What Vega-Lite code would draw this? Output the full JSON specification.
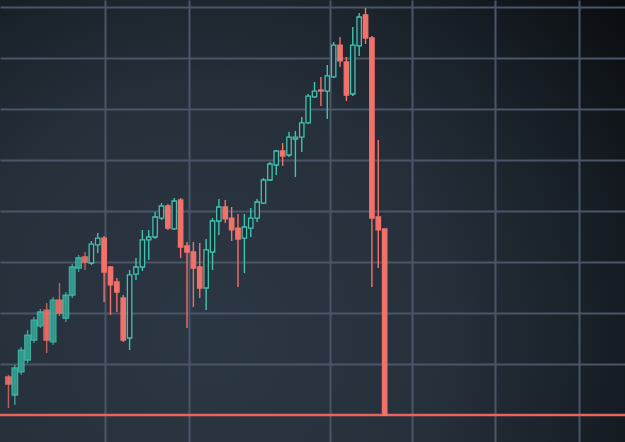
{
  "$schema": "https://vega.github.io/schema/vega-lite/v6.json",
  "width": 625,
  "height": 442,
  "padding": 0,
  "autosize": {"type": "none"},
  "background": "#12171c",
  "config": {
    "view": {
      "stroke": null,
      "fill": {
        "gradient": "radial",
        "x1": 0.33, "y1": 0.68, "r1": 0,
        "x2": 0.33, "y2": 0.68, "r2": 0.85,
        "stops": [
          {"offset": 0, "color": "#2c3744"},
          {"offset": 0.45, "color": "#26303b"},
          {"offset": 0.75, "color": "#171e25"},
          {"offset": 1, "color": "#0a0d10"}
        ]
      }
    },
    "axis": {
      "grid": true,
      "gridColor": "#4a5668",
      "gridWidth": 2,
      "gridOpacity": 1,
      "labels": false,
      "ticks": false,
      "domain": false,
      "title": null
    }
  },
  "data": {
    "values": [
      {"i": -1, "o": 373, "h": 392, "l": 69, "c": 304},
      {"i": 0, "o": 196, "h": 490, "l": 98, "c": 461},
      {"i": 1, "o": 422, "h": 667, "l": 392, "c": 637},
      {"i": 2, "o": 539, "h": 833, "l": 510, "c": 784},
      {"i": 3, "o": 735, "h": 961, "l": 706, "c": 931},
      {"i": 4, "o": 873, "h": 1039, "l": 853, "c": 1010},
      {"i": 5, "o": 1029, "h": 1098, "l": 608, "c": 735},
      {"i": 6, "o": 716, "h": 1157, "l": 686, "c": 1127},
      {"i": 7, "o": 1127, "h": 1294, "l": 971, "c": 1000},
      {"i": 8, "o": 951, "h": 1206, "l": 912, "c": 1176},
      {"i": 9, "o": 1176, "h": 1480, "l": 1147, "c": 1451},
      {"i": 10, "o": 1441, "h": 1569, "l": 1402, "c": 1539},
      {"i": 11, "o": 1549, "h": 1598, "l": 1422, "c": 1500},
      {"i": 12, "o": 1490, "h": 1706, "l": 1471, "c": 1676},
      {"i": 13, "o": 1667, "h": 1784, "l": 1588, "c": 1735},
      {"i": 14, "o": 1735, "h": 1755, "l": 1108, "c": 1402},
      {"i": 15, "o": 1451, "h": 1461, "l": 980, "c": 1275},
      {"i": 16, "o": 1304, "h": 1343, "l": 1010, "c": 1206},
      {"i": 17, "o": 1147, "h": 1176, "l": 716, "c": 735},
      {"i": 18, "o": 755, "h": 1422, "l": 637, "c": 1373},
      {"i": 19, "o": 1382, "h": 1539, "l": 1324, "c": 1451},
      {"i": 20, "o": 1451, "h": 1814, "l": 1412, "c": 1716},
      {"i": 21, "o": 1716, "h": 1814, "l": 1520, "c": 1745},
      {"i": 22, "o": 1745, "h": 1990, "l": 1725, "c": 1941},
      {"i": 23, "o": 1931, "h": 2078, "l": 1912, "c": 2049},
      {"i": 24, "o": 2049, "h": 2069, "l": 1814, "c": 1833},
      {"i": 25, "o": 1824, "h": 2127, "l": 1814, "c": 2098},
      {"i": 26, "o": 2108, "h": 2127, "l": 1539, "c": 1647},
      {"i": 27, "o": 1657, "h": 1696, "l": 853, "c": 1598},
      {"i": 28, "o": 1598, "h": 1696, "l": 1059, "c": 1441},
      {"i": 29, "o": 1451, "h": 1686, "l": 1147, "c": 1245},
      {"i": 30, "o": 1245, "h": 1725, "l": 1029, "c": 1618},
      {"i": 31, "o": 1598, "h": 1931, "l": 1422, "c": 1902},
      {"i": 32, "o": 1902, "h": 2118, "l": 1765, "c": 2039},
      {"i": 33, "o": 2039, "h": 2108, "l": 1882, "c": 1922},
      {"i": 34, "o": 1931, "h": 2039, "l": 1706, "c": 1814},
      {"i": 35, "o": 1833, "h": 1971, "l": 1255, "c": 1725},
      {"i": 36, "o": 1735, "h": 1971, "l": 1392, "c": 1843},
      {"i": 37, "o": 1833, "h": 2029, "l": 1745, "c": 1931},
      {"i": 38, "o": 1931, "h": 2118, "l": 1892, "c": 2088},
      {"i": 39, "o": 2078, "h": 2324, "l": 2069, "c": 2304},
      {"i": 40, "o": 2304, "h": 2480, "l": 2294, "c": 2461},
      {"i": 41, "o": 2451, "h": 2598, "l": 2353, "c": 2588},
      {"i": 42, "o": 2588, "h": 2667, "l": 2441, "c": 2539},
      {"i": 43, "o": 2549, "h": 2775, "l": 2529, "c": 2725},
      {"i": 44, "o": 2706, "h": 2784, "l": 2333, "c": 2725},
      {"i": 45, "o": 2725, "h": 2922, "l": 2578, "c": 2863},
      {"i": 46, "o": 2863, "h": 3147, "l": 2853, "c": 3127},
      {"i": 47, "o": 3118, "h": 3265, "l": 3108, "c": 3176},
      {"i": 48, "o": 3186, "h": 3314, "l": 3029, "c": 3176},
      {"i": 49, "o": 3176, "h": 3431, "l": 2902, "c": 3324},
      {"i": 50, "o": 3314, "h": 3657, "l": 3304, "c": 3627},
      {"i": 51, "o": 3627, "h": 3706, "l": 3412, "c": 3471},
      {"i": 52, "o": 3461, "h": 3510, "l": 3078, "c": 3137},
      {"i": 53, "o": 3147, "h": 3804, "l": 3127, "c": 3627},
      {"i": 54, "o": 3618, "h": 3941, "l": 3520, "c": 3902},
      {"i": 55, "o": 3922, "h": 3990, "l": 3637, "c": 3696},
      {"i": 56, "o": 3696, "h": 3716, "l": 1255, "c": 1931},
      {"i": 57, "o": 1941, "h": 2696, "l": 1441, "c": 1814},
      {"i": 58, "o": 1824, "h": 1824, "l": 0, "c": 0}
    ]
  },
  "layer": [
    {
      "data": {"values": [{"level": 0}]},
      "mark": {"type": "rule", "color": "#e8645d", "strokeWidth": 2.5},
      "encoding": {
        "y": {
          "field": "level", "type": "quantitative",
          "scale": {"domain": [-264.7, 4068.6], "nice": false, "zero": false},
          "axis": {"values": [500, 1000, 1500, 2000, 2500, 3000, 3500, 4000]}
        }
      }
    },
    {
      "mark": {"type": "rule", "strokeWidth": 1.4},
      "encoding": {
        "x": {
          "field": "i", "type": "quantitative",
          "scale": {"domain": [-1.543, 94.907], "nice": false, "zero": false},
          "axis": {"values": [14.2, 27.31, 49.38, 62.35, 75.31, 88.43]}
        },
        "y": {
          "field": "l", "type": "quantitative",
          "scale": {"domain": [-264.7, 4068.6], "nice": false, "zero": false}
        },
        "y2": {"field": "h"},
        "color": {
          "condition": {"test": "datum.c >= datum.o", "value": "#41c3b0"},
          "value": "#f2716a"
        },
        "opacity": {
          "condition": {"test": "datum.i < 12", "value": 0.75},
          "value": 1
        }
      }
    },
    {
      "mark": {"type": "bar", "strokeWidth": 1.3},
      "encoding": {
        "x": {
          "field": "i", "type": "quantitative",
          "scale": {"domain": [-1.543, 94.907], "nice": false, "zero": false}
        },
        "y": {
          "field": "o", "type": "quantitative",
          "scale": {"domain": [-264.7, 4068.6], "nice": false, "zero": false}
        },
        "y2": {"field": "c"},
        "size": {
          "condition": {"test": "datum.i < 12", "value": 5.6},
          "value": 4.4
        },
        "fill": {
          "condition": [
            {"test": "datum.c >= datum.o && datum.i < 12", "value": "#34a293"},
            {"test": "datum.c >= datum.o", "value": "#232d38"}
          ],
          "value": "#f2716a"
        },
        "stroke": {
          "condition": {"test": "datum.c >= datum.o", "value": "#41c3b0"},
          "value": "#f2716a"
        },
        "opacity": {
          "condition": {"test": "datum.i < 12", "value": 0.85},
          "value": 1
        }
      }
    }
  ]
}
